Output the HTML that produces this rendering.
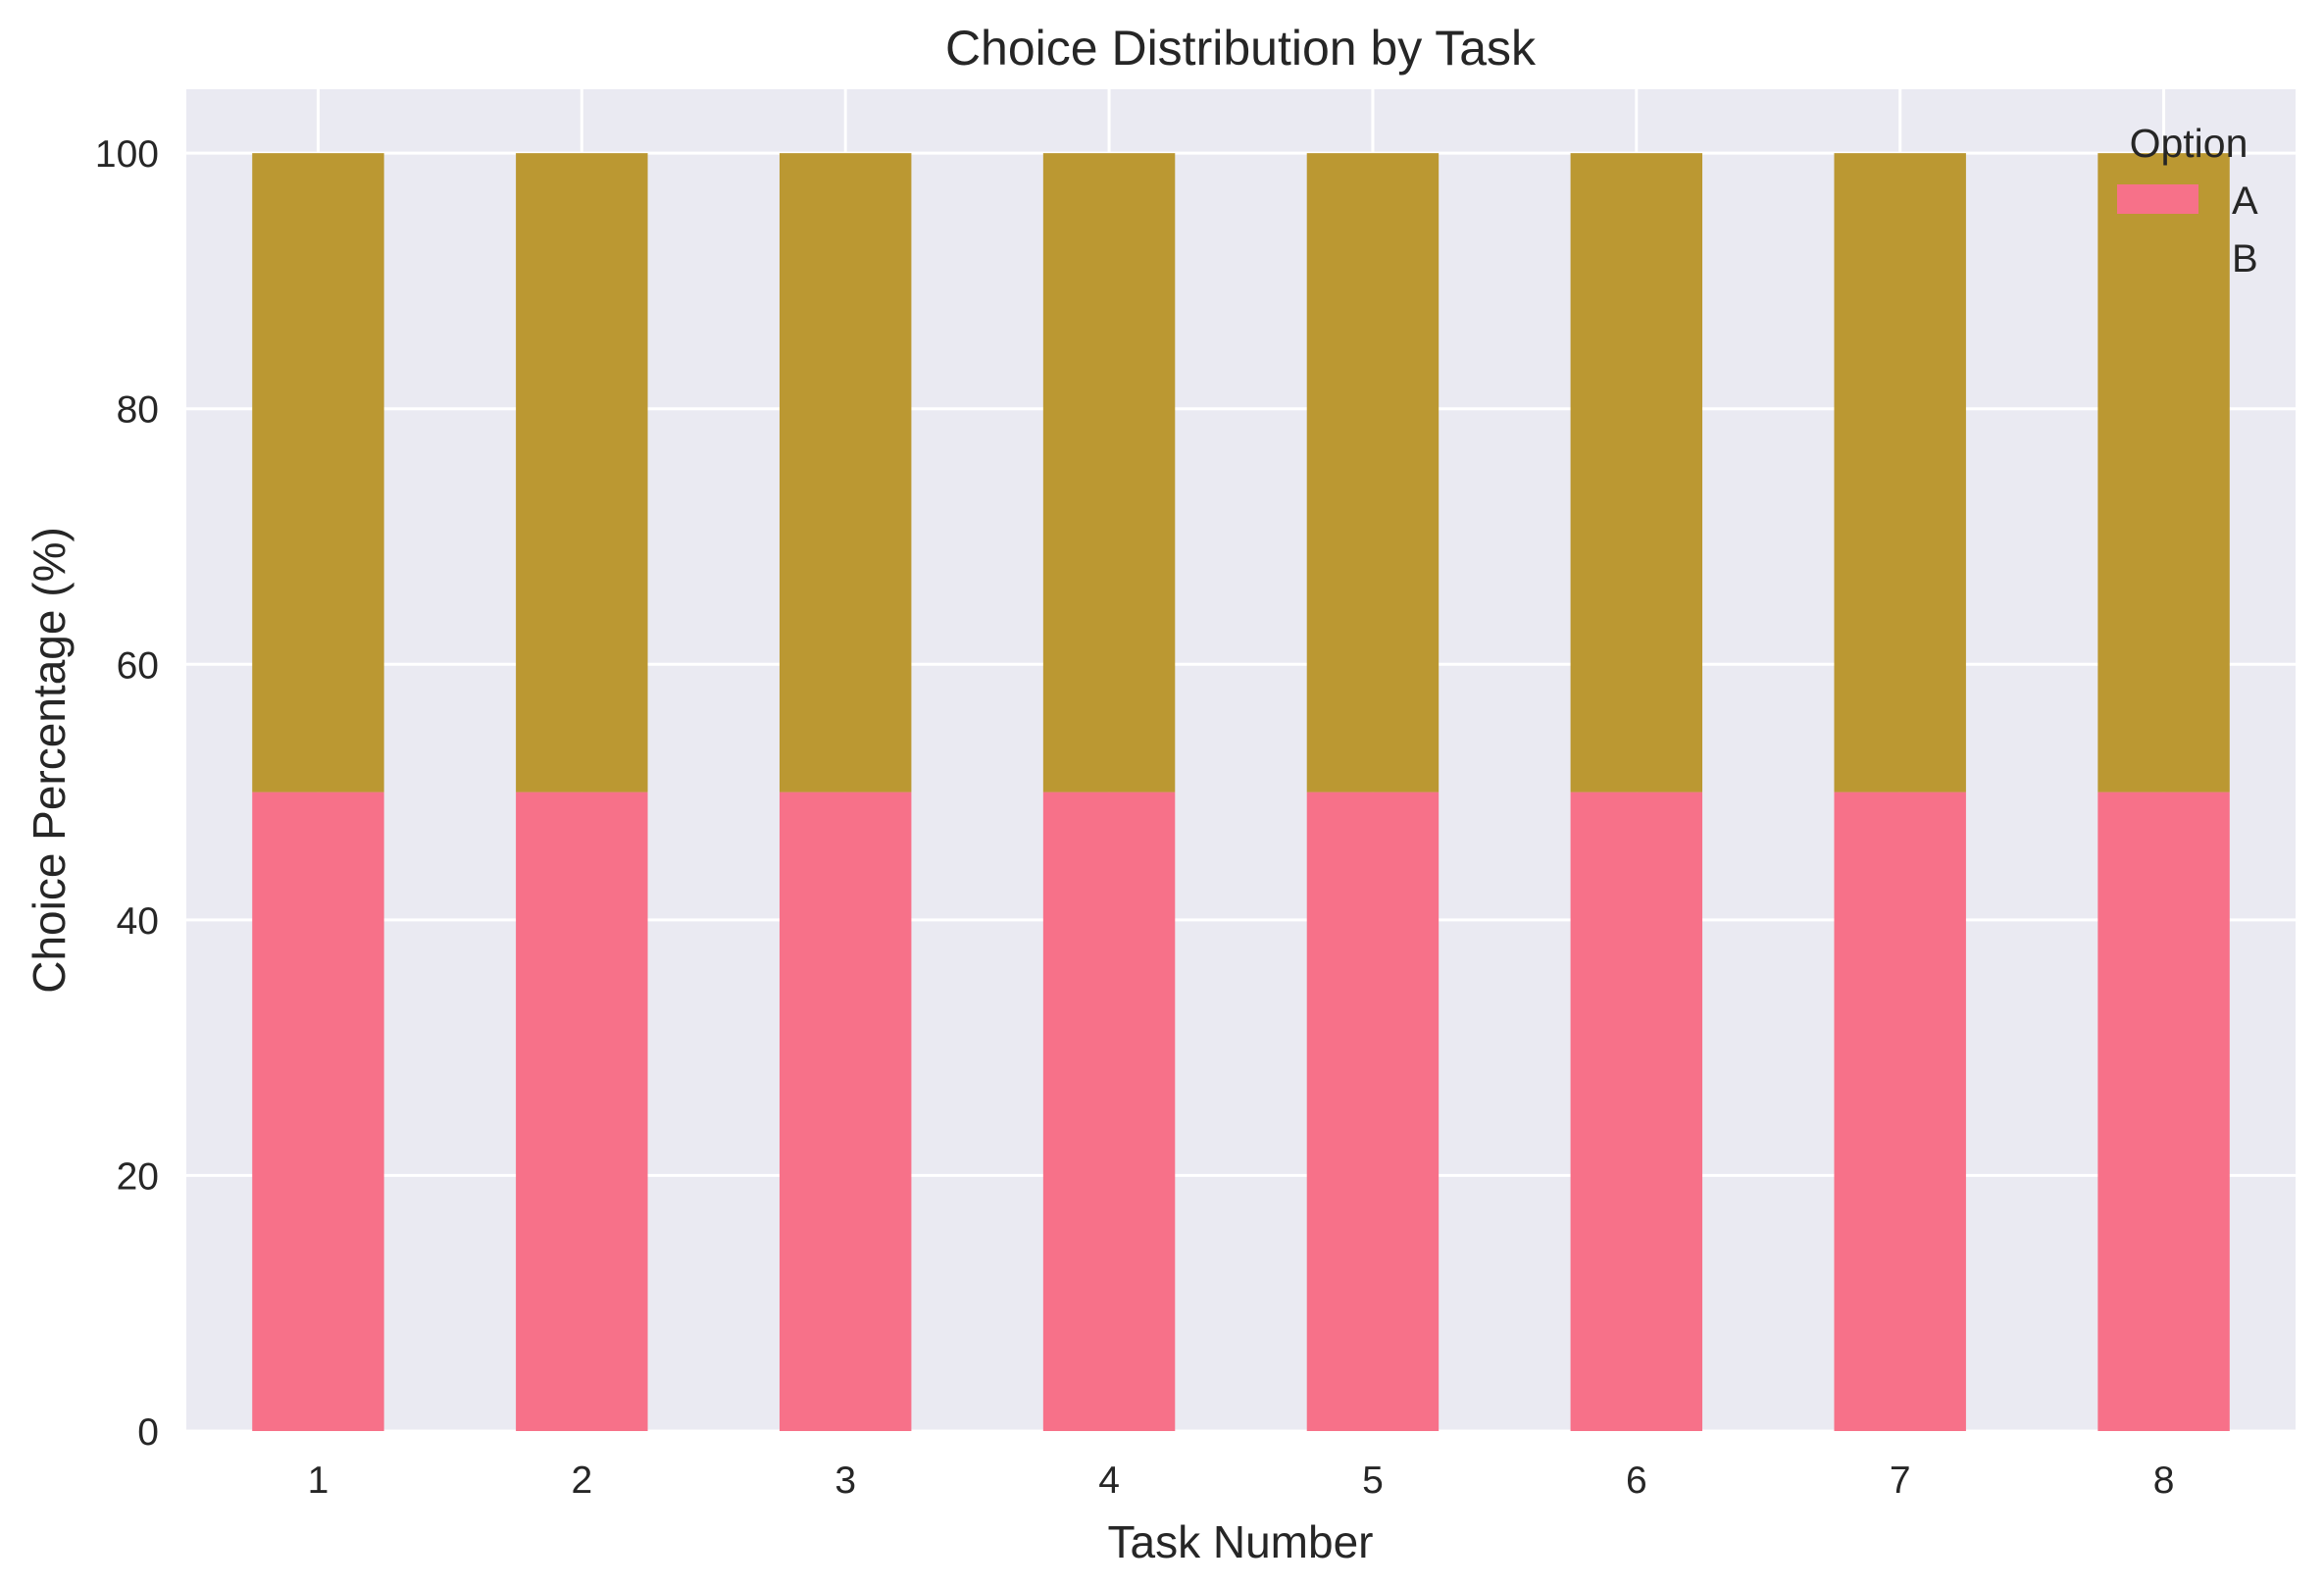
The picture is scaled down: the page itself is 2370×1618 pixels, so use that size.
<!DOCTYPE html>
<html><head><meta charset="utf-8"><style>
body{margin:0;background:#fff}
svg{display:block}
text{font-family:"Liberation Sans","DejaVu Sans",sans-serif;fill:#262626}
</style></head><body>
<svg id="chart" width="2370" height="1618" viewBox="0 0 2370 1618" xmlns="http://www.w3.org/2000/svg">
<rect x="190" y="91" width="2151" height="1368" fill="#eaeaf2"/>
<g id="grid"></g>
<g id="bars"></g>
<g id="ticks"></g>
<text x="1265" y="66" font-size="50" text-anchor="middle">Choice Distribution by Task</text>
<text x="1265" y="1588" font-size="46" text-anchor="middle">Task Number</text>
<text x="0" y="0" font-size="46" text-anchor="middle" transform="translate(66,775) rotate(-90)">Choice Percentage (%)</text>
<g>
<text x="2232" y="160" font-size="41" text-anchor="middle">Option</text>
<rect x="2159" y="188" width="83" height="30" fill="#f77189"/>
<text x="2276" y="218" font-size="40">A</text>
<rect x="2159" y="248" width="83" height="30" fill="#bb9832"/>
<text x="2276" y="277" font-size="40">B</text>
</g>
</svg>
<script>
const categories=["1","2","3","4","5","6","7","8"];
const seriesA=[50,50,50,50,50,50,50,50];
const seriesB=[50,50,50,50,50,50,50,50];
const yTicks=[0,20,40,60,80,100];
const NS="http://www.w3.org/2000/svg";
const L=190,R=2341,T=91,B=1459;
const xs=i=>L+(i+0.5)*(R-L)/categories.length;
const ys=v=>B-(B-T)*v/105;
const bw=0.5*(R-L)/categories.length;
function mk(tag,attrs,parent){const e=document.createElementNS(NS,tag);for(const k in attrs)e.setAttribute(k,attrs[k]);document.getElementById(parent).appendChild(e);return e;}
yTicks.forEach(v=>{
  const g=mk('line',{x1:L,x2:R,y1:ys(v),y2:ys(v),stroke:'#fff','stroke-width':3},'grid');
  
  
  const t=mk('text',{x:162,y:ys(v)+14,'font-size':39,'text-anchor':'end'},'ticks');
  t.textContent=v;
  
  
});
categories.forEach((c,i)=>{
  const g=mk('line',{x1:xs(i),x2:xs(i),y1:T,y2:B,stroke:'#fff','stroke-width':3},'grid');
  
  
  const a=mk('rect',{x:xs(i)-bw/2,y:ys(seriesA[i]),width:bw,height:ys(0)-ys(seriesA[i]),fill:'#f77189'},'bars');
  
  
  const b=mk('rect',{x:xs(i)-bw/2,y:ys(seriesA[i]+seriesB[i]),width:bw,height:ys(seriesA[i])-ys(seriesA[i]+seriesB[i]),fill:'#bb9832'},'bars');
  
  
  const t=mk('text',{x:xs(i),y:1522,'font-size':39,'text-anchor':'middle'},'ticks');
  t.textContent=c;
  
  
});
</script>
</body></html>
